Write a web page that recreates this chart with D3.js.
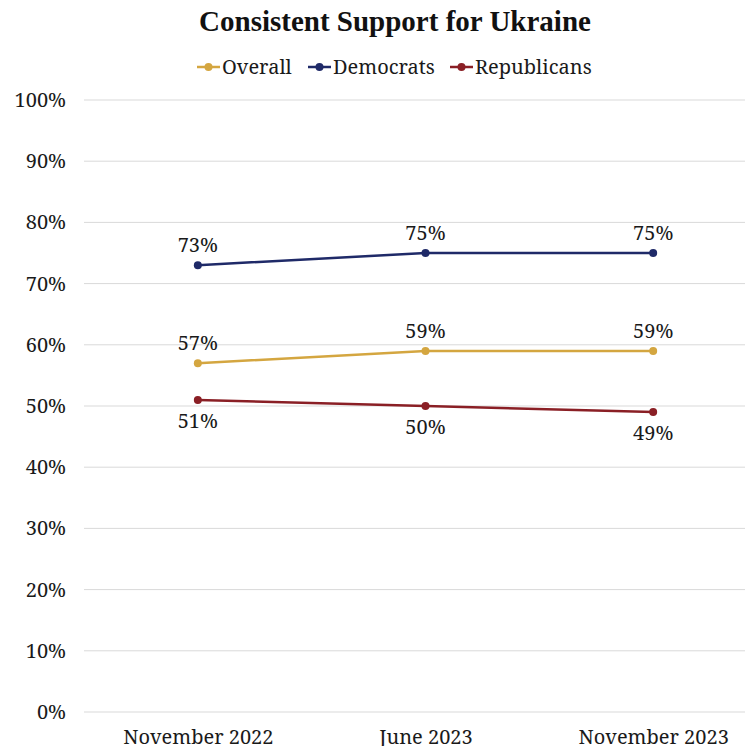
<!DOCTYPE html>
<html>
<head>
<meta charset="utf-8">
<script src="https://cdn.jsdelivr.net/npm/d3@7"></script>
<style>
  html, body { margin: 0; padding: 0; background: #fff; }
  svg { display: block; }
</style>
</head>
<body>
<div id="chart"></div>
<script>
// Survey waves and series values (percent)
const categories = ["November 2022", "June 2023", "November 2023"];
const overall = [57, 59, 59];
const democrats = [73, 75, 75];
const republicans = [51, 50, 49];
const yTicks = [0, 10, 20, 30, 40, 50, 60, 70, 80, 90, 100];

const series = [
  { name: "Overall", values: overall, color: "#D4A640", labelPos: "above" },
  { name: "Democrats", values: democrats, color: "#1F2A68", labelPos: "above" },
  { name: "Republicans", values: republicans, color: "#8A1F25", labelPos: "below" }
];

const W = 745, H = 746;
const labelFont = "'Noto Serif', 'DejaVu Serif', 'Liberation Serif', serif";
const titleFont = "'Liberation Serif', 'DejaVu Serif', serif";

const svg = d3.select("#chart").append("svg")
  .attr("width", W).attr("height", H);

const x = d3.scalePoint().domain(categories).range([84, 767]).padding(0.5);
const y = d3.scaleLinear().domain([0, 100]).range([712, 100]);

// Horizontal gridlines
svg.append("g").selectAll("line").data(yTicks).join("line")
  .attr("x1", 84).attr("x2", W)
  .attr("y1", d => y(d)).attr("y2", d => y(d))
  .attr("stroke", "#d9d9d9").attr("stroke-width", 1);

// Y axis labels
const yAxis = d3.axisLeft(y).tickValues(yTicks).tickFormat(d => d + "%").tickSize(0).tickPadding(0);
const gy = svg.append("g").attr("transform", "translate(66,0)").call(yAxis);
gy.select(".domain").remove();
gy.selectAll("text")
  .attr("font-family", labelFont).attr("font-size", 20).attr("fill", "#1a1a1a");

// X axis labels
const xAxis = d3.axisBottom(x).tickSize(0).tickPadding(0);
const gx = svg.append("g").attr("transform", "translate(0,730)").call(xAxis);
gx.select(".domain").remove();
gx.selectAll("text")
  .attr("font-family", labelFont).attr("font-size", 20).attr("fill", "#1a1a1a");

// Lines, markers and value labels
const line = d3.line().x((d, i) => x(categories[i])).y(d => y(d));

series.forEach(s => {
  const g = svg.append("g");
  g.append("path").datum(s.values)
    .attr("d", line).attr("fill", "none")
    .attr("stroke", s.color).attr("stroke-width", 2.5);
  g.selectAll("circle").data(s.values).join("circle")
    .attr("cx", (d, i) => x(categories[i])).attr("cy", d => y(d))
    .attr("r", 4).attr("fill", s.color);
  g.selectAll("text").data(s.values).join("text")
    .attr("x", (d, i) => x(categories[i]))
    .attr("y", d => y(d) + (s.labelPos === "above" ? -20 : 21))
    .attr("dy", "0.35em")
    .attr("text-anchor", "middle")
    .attr("font-family", labelFont).attr("font-size", 20).attr("fill", "#1a1a1a")
    .text(d => d + "%");
});

// Title
svg.append("text")
  .attr("x", 395).attr("y", 31)
  .attr("text-anchor", "middle")
  .attr("font-family", titleFont).attr("font-weight", "bold")
  .attr("font-size", 29).attr("fill", "#111")
  .text("Consistent Support for Ukraine");

// Legend
const legend = svg.append("g").attr("transform", "translate(0,67)");
const legendX = [197, 308, 450];
series.forEach((s, i) => {
  const lg = legend.append("g").attr("transform", `translate(${legendX[i]},0)`);
  lg.append("line").attr("x1", 0).attr("x2", 23).attr("y1", 0).attr("y2", 0)
    .attr("stroke", s.color).attr("stroke-width", 2.5);
  lg.append("circle").attr("cx", 11.5).attr("cy", 0).attr("r", 4).attr("fill", s.color);
  lg.append("text").attr("x", 25).attr("y", 0).attr("dy", "0.35em")
    .attr("font-family", labelFont).attr("font-size", 20).attr("fill", "#1a1a1a")
    .text(s.name);
});
</script>
</body>
</html>
